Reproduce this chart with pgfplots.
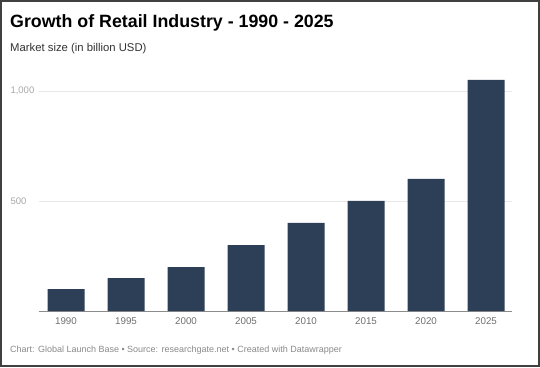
\documentclass[border=0pt]{standalone}
\usepackage{pgfplots}
\pgfplotsset{compat=1.18}
\usepackage{fontspec}
\setmainfont{Liberation Sans}
\definecolor{barc}{HTML}{2D3F56}
\definecolor{tickc}{HTML}{707070}
\definecolor{ytickc}{HTML}{A8A8A8}
\definecolor{footc}{HTML}{8A8A8A}
\begin{document}
\begin{tikzpicture}
\useasboundingbox (0pt,0pt) rectangle (540pt,367pt);
\fill[white] (0pt,0pt) rectangle (540pt,367pt);
\draw[line width=1.6pt, black!75] (0.8pt,0.8pt) rectangle (539.2pt,366.2pt);
\node[anchor=base west, inner sep=0pt, font=\bfseries\fontsize{17.8}{20}\selectfont] at (10pt,339pt) {Growth of Retail Industry - 1990 - 2025};
\node[anchor=base west, inner sep=0pt, text=black!80, font=\fontsize{11.3}{13}\selectfont] at (10pt,315pt) {Market size (in billion USD)};
\node[anchor=base west, inner sep=0pt, text=footc, font=\fontsize{9}{11}\selectfont] at (10pt,14.5pt) {Chart: Global Launch Base • Source: researchgate.net • Created with Datawrapper};
\begin{axis}[
  at={(39pt,56pt)}, anchor=south west,
  scale only axis, width=473pt, height=242pt,
  xmin=-0.45, xmax=7.433, ymin=0, ymax=1100,
  axis line style={draw=none},
  tick style={draw=none},
  ytick={500,1000}, yticklabels={500,{1,000}},
  ymajorgrids, grid style={black!9, line width=0.8pt},
  yticklabel style={anchor=west, xshift=-32pt, text=ytickc, font=\fontsize{9.5}{11}\selectfont},
  extra y ticks={0}, extra y tick labels={},
  extra y tick style={grid style={black!45, line width=1pt}},
  xtick=data,
  xticklabels={1990,1995,2000,2005,2010,2015,2020,2025},
  xticklabel style={text=tickc, yshift=-3pt, font=\fontsize{9.8}{11}\selectfont},
  clip=false,
]
\addplot[ybar, bar width=37pt, fill=barc, draw=none] coordinates {
  (0,100) (1,150) (2,200) (3,300) (4,400) (5,500) (6,600) (7,1050)
};
\end{axis}
\end{tikzpicture}
\end{document}
